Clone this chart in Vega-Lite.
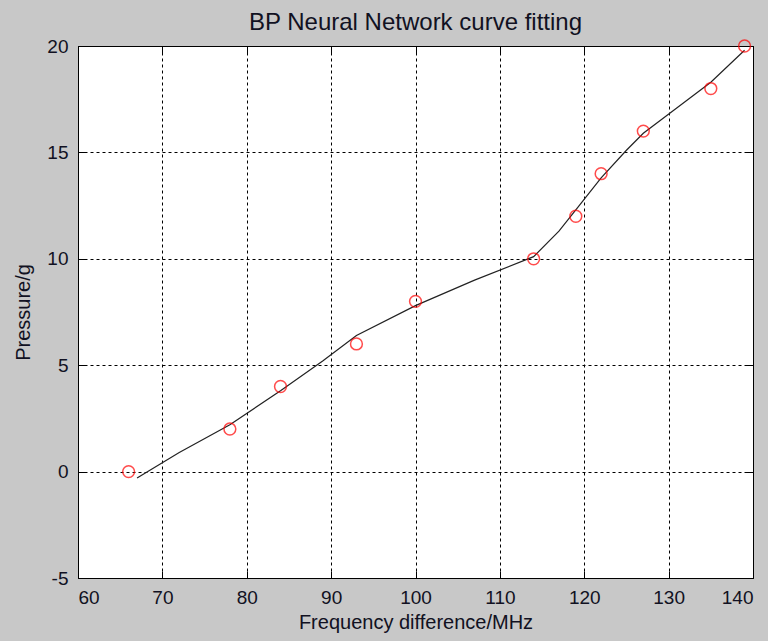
{
  "$schema": "https://vega.github.io/schema/vega-lite/v6.json",
  "width": 675,
  "height": 532,
  "autosize": {"type": "none"},
  "padding": {"left": 78, "top": 46, "right": 15, "bottom": 63},
  "background": "#c8c8c8",
  "title": {
    "text": "BP Neural Network curve fitting",
    "anchor": "middle",
    "frame": "group",
    "offset": 2,
    "fontSize": 24,
    "fontWeight": "normal",
    "font": "Liberation Sans",
    "color": "#111122"
  },
  "config": {
    "view": {"fill": "white", "stroke": "black", "strokeWidth": 1},
    "axis": {
      "labelFont": "Liberation Sans",
      "titleFont": "Liberation Sans",
      "labelFontSize": 19,
      "titleFontSize": 20,
      "titleFontWeight": "normal",
      "labelColor": "#111122",
      "titleColor": "#111122",
      "domain": false,
      "grid": true,
      "gridColor": "black",
      "gridDash": [3, 3],
      "gridWidth": 1,
      "gridOpacity": 1,
      "tickColor": "black",
      "tickSize": -7,
      "tickWidth": 1
    }
  },
  "datasets": {
    "pts": [
      {"f": 66, "p": 0},
      {"f": 78, "p": 2},
      {"f": 84, "p": 4},
      {"f": 93, "p": 6},
      {"f": 100, "p": 8},
      {"f": 114, "p": 10},
      {"f": 119, "p": 12},
      {"f": 122, "p": 14},
      {"f": 127, "p": 16},
      {"f": 135, "p": 18},
      {"f": 139, "p": 20}
    ],
    "fit": [
      {"f": 67, "p": -0.3},
      {"f": 72, "p": 0.9},
      {"f": 78, "p": 2.2},
      {"f": 84, "p": 3.8},
      {"f": 89, "p": 5.2},
      {"f": 93, "p": 6.4},
      {"f": 100, "p": 7.8},
      {"f": 107, "p": 9.0},
      {"f": 114, "p": 10.1},
      {"f": 117, "p": 11.3},
      {"f": 119, "p": 12.3},
      {"f": 122, "p": 13.8},
      {"f": 125, "p": 15.1},
      {"f": 127, "p": 15.9},
      {"f": 131, "p": 17.1},
      {"f": 135, "p": 18.3},
      {"f": 139, "p": 19.8}
    ]
  },
  "resolve": {"axis": {"x": "independent", "y": "independent"}},
  "layer": [
    {
      "data": {"name": "fit"},
      "mark": {"type": "line", "color": "#222222", "strokeWidth": 1.2},
      "encoding": {
        "x": {
          "field": "f",
          "type": "quantitative",
          "scale": {"domain": [60, 140], "nice": false, "zero": false},
          "axis": {
            "title": "Frequency difference/MHz",
            "values": [60, 70, 80, 90, 100, 110, 120, 130, 140],
            "labelPadding": 17,
            "titlePadding": 5
          }
        },
        "y": {
          "field": "p",
          "type": "quantitative",
          "scale": {"domain": [-5, 20], "nice": false, "zero": false},
          "axis": {
            "title": "Pressure/g",
            "values": [-5, 0, 5, 10, 15, 20],
            "labelExpr": "replace(datum.label, '\u2212', '-')",
            "labelPadding": 17,
            "titlePadding": 13
          }
        }
      }
    },
    {
      "data": {"name": "pts"},
      "mark": {"type": "point", "shape": "circle", "filled": false, "color": "red", "size": 140, "strokeWidth": 1.5},
      "encoding": {
        "x": {
          "field": "f",
          "type": "quantitative",
          "axis": {"orient": "top", "labels": false, "title": null, "grid": false, "values": [60, 70, 80, 90, 100, 110, 120, 130, 140]}
        },
        "y": {
          "field": "p",
          "type": "quantitative",
          "axis": {"orient": "right", "labels": false, "title": null, "grid": false, "values": [-5, 0, 5, 10, 15, 20]}
        }
      }
    }
  ]
}
